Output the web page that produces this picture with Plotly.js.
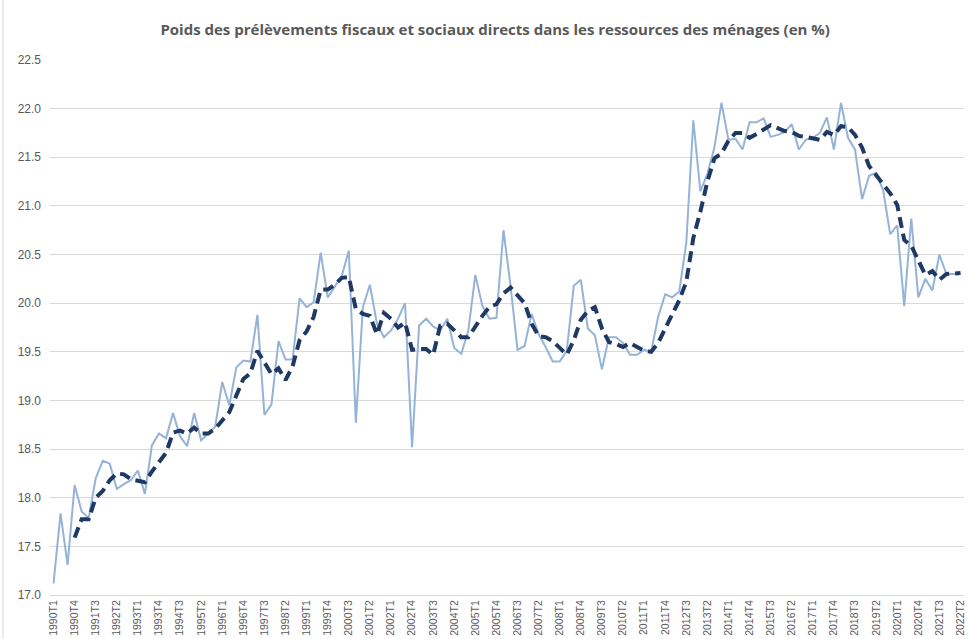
<!DOCTYPE html>
<html>
<head>
<meta charset="utf-8">
<script src="https://cdn.plot.ly/plotly-3.0.1.min.js"></script>
<style>
  html, body { margin: 0; padding: 0; background: #ffffff; }
  #chart { width: 969px; height: 639px; }
</style>
</head>
<body>
<div id="chart"></div>
<script>
// Quarter labels (1990T1 .. 2022T2)
const firstYear = 1990;
const quarterCount = 130;
const quarterLabels = [];
for (let k = 0; k < quarterCount; k++) {
  quarterLabels.push((firstYear + Math.floor(k / 4)) + 'T' + (k % 4 + 1));
}

// Raw quarterly series (%)
const poidsTrimestriel = [
  17.12, 17.84, 17.31, 18.13, 17.86, 17.79, 18.20, 18.38, 18.35, 18.09,
  18.14, 18.18, 18.28, 18.04, 18.54, 18.66, 18.61, 18.87, 18.63, 18.53,
  18.87, 18.59, 18.66, 18.73, 19.19, 18.95, 19.34, 19.41, 19.40, 19.88,
  18.85, 18.96, 19.61, 19.42, 19.42, 20.05, 19.96, 20.01, 20.52, 20.06,
  20.17, 20.28, 20.54, 18.77, 19.96, 20.19, 19.79, 19.65, 19.72, 19.84,
  20.00, 18.52, 19.77, 19.84, 19.76, 19.72, 19.84, 19.54, 19.48, 19.72,
  20.29, 19.97, 19.84, 19.85, 20.75, 20.18, 19.52, 19.56, 19.89, 19.68,
  19.55, 19.40, 19.40, 19.51, 20.18, 20.24, 19.74, 19.67, 19.32, 19.65,
  19.65, 19.59, 19.47, 19.47, 19.52, 19.50, 19.86, 20.09, 20.06, 20.12,
  20.62, 21.88, 21.15, 21.33, 21.60, 22.06, 21.68, 21.69, 21.58, 21.86,
  21.86, 21.90, 21.71, 21.73, 21.76, 21.84, 21.58, 21.68, 21.70, 21.75,
  21.91, 21.58, 22.06, 21.70, 21.58, 21.07, 21.31, 21.34, 21.16, 20.71,
  20.80, 19.97, 20.87, 20.06, 20.25, 20.13, 20.50, 20.30, 20.30, 20.30
];

// Smoothed series (dashed)
const poidsLisse = [
  null, null, null, 17.59, 17.78, 17.78, 18.00, 18.07, 18.18, 18.25,
  18.24, 18.19, 18.17, 18.16, 18.27, 18.37, 18.46, 18.67, 18.69, 18.66,
  18.72, 18.66, 18.66, 18.71, 18.79, 18.88, 19.05, 19.22, 19.28, 19.51,
  19.39, 19.27, 19.33, 19.21, 19.35, 19.62, 19.71, 19.86, 20.14, 20.14,
  20.19, 20.26, 20.27, 19.94, 19.89, 19.87, 19.68, 19.90, 19.84, 19.75,
  19.80, 19.52, 19.53, 19.53, 19.47, 19.77, 19.79, 19.72, 19.65, 19.65,
  19.76, 19.87, 19.96, 19.99, 20.10, 20.16, 20.08, 20.00, 19.79, 19.66,
  19.65, 19.61, 19.54, 19.47, 19.62, 19.83, 19.92, 19.96, 19.74, 19.60,
  19.58, 19.55, 19.59, 19.55, 19.51, 19.50, 19.59, 19.74, 19.88, 20.03,
  20.22, 20.67, 20.94, 21.25, 21.49, 21.54, 21.67, 21.75, 21.75, 21.70,
  21.74, 21.79, 21.83, 21.80, 21.77, 21.76, 21.72, 21.71, 21.70, 21.68,
  21.76, 21.73, 21.82, 21.81, 21.73, 21.60, 21.41, 21.32, 21.22, 21.13,
  21.01, 20.65, 20.59, 20.43, 20.29, 20.33, 20.24, 20.30, 20.30, 20.31
];

const xIdx = quarterLabels.map((_, k) => k);
const tickStep = 3;
const tickIdx = xIdx.filter(k => k % tickStep === 0);
const tickText = tickIdx.map(k => quarterLabels[k]);

const traces = [
  {
    x: xIdx, y: poidsTrimestriel, text: quarterLabels,
    type: 'scatter', mode: 'lines',
    line: { color: '#95b3d7', width: 2 },
    hoverinfo: 'text+y', showlegend: false
  },
  {
    x: xIdx, y: poidsLisse, text: quarterLabels,
    type: 'scatter', mode: 'lines',
    line: { color: '#1f3864', width: 4, dash: '11px,6px' },
    hoverinfo: 'text+y', showlegend: false, connectgaps: false
  }
];

const tickFont = { family: 'Liberation Sans, Arial, sans-serif', size: 12, color: '#595959' };

const layout = {
  width: 969, height: 639,
  margin: { l: 50, r: 5, t: 60, b: 44, pad: 0 },
  paper_bgcolor: '#ffffff', plot_bgcolor: '#ffffff',
  title: {
    text: 'Poids des prélèvements fiscaux et sociaux directs dans les ressources des ménages (en %)',
    font: { family: 'Open Sans, sans-serif', size: 15, color: '#595959', weight: 700 },
    x: 0.511, xref: 'container', xanchor: 'center',
    y: 0.953, yref: 'container', yanchor: 'middle'
  },
  xaxis: {
    range: [-0.5, 129.5],
    tickmode: 'array', tickvals: tickIdx, ticktext: tickText,
    tickangle: -90,
    tickfont: { family: 'Liberation Sans, Arial, sans-serif', size: 10.5, color: '#595959' },
    showgrid: false, zeroline: false,
    showline: true, linecolor: '#d9d9d9', linewidth: 1,
    ticks: ''
  },
  yaxis: {
    range: [17, 22.5],
    tick0: 17, dtick: 0.5, tickformat: '.1f',
    tickfont: tickFont,
    showgrid: true, gridcolor: '#d9d9d9', gridwidth: 1,
    zeroline: false, showline: false, ticks: '',
    ticklabelstandoff: 8
  },
  shapes: [
    { type: 'line', xref: 'paper', yref: 'paper', xsizemode: 'pixel', xanchor: 0,
      x0: -47, x1: -47, y0: -0.083, y1: 1.113,
      line: { color: '#d9d9d9', width: 1 } }
  ],
  hovermode: 'closest'
};

Plotly.newPlot('chart', traces, layout, { displayModeBar: false, staticPlot: false });
</script>
</body>
</html>
